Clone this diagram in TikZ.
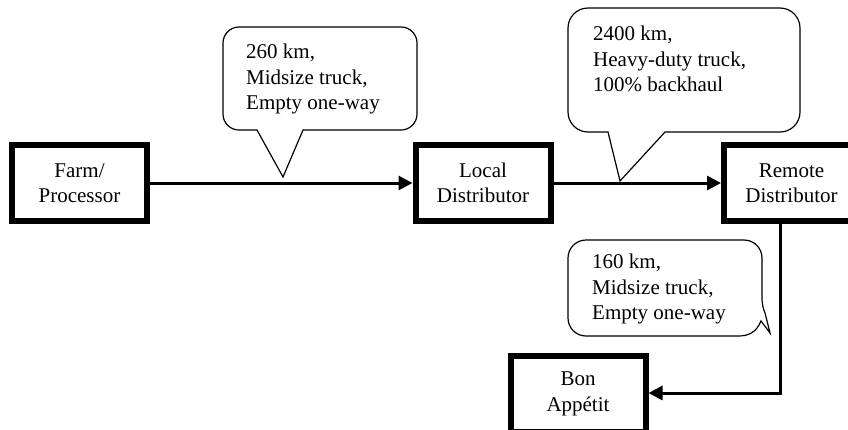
\documentclass[tikz,border=0pt]{standalone}
\usepackage{fontspec}
\setmainfont{Liberation Serif}
\usetikzlibrary{arrows.meta}
\begin{document}
\begin{tikzpicture}[x=1pt,y=1pt,
 stage/.style={draw,line width=6pt,minimum width=135pt,minimum height=76pt,align=center,inner sep=0pt,font=\fontsize{21}{25.5}\selectfont},
 flow/.style={line width=3pt,-{Triangle[length=14pt,width=14pt]}},
 callout/.style={draw,line width=1.2pt,fill=white},
 ctext/.style={anchor=west,align=left,inner sep=0pt,font=\fontsize{21}{25.5}\selectfont}]
\useasboundingbox (0,0) rectangle (848,-429);
\clip (0,0) rectangle (848,-429);
\node[stage] (farm) at (79.5,-183) {Farm/\\Processor};
\node[stage] (local) at (483,-183) {Local\\Distributor};
\node[stage] (remote) at (791.5,-183) {Remote\\Distributor};
\node[stage] (bon) at (578,-394) {Bon\\Appétit};
\coordinate (turn) at (780,-393);
\draw[flow] (farm) -- (local);
\draw[flow] (local) -- (remote);
\draw[flow] (remote.south -| turn) |- (bon.east |- turn);
% callout 1
\draw[callout] (239,-27) -- (401,-27) arc[start angle=90,end angle=0,radius=16pt]
  -- (417,-114) arc[start angle=0,end angle=-90,radius=16pt]
  -- (303,-130) -- (283,-177) -- (257,-130) -- (239,-130)
  arc[start angle=270,end angle=180,radius=16pt] -- (223,-43)
  arc[start angle=180,end angle=90,radius=16pt] -- cycle;
% callout 2
\draw[callout] (588,-8) -- (780,-8) arc[start angle=90,end angle=0,radius=20pt]
  -- (800,-112) arc[start angle=0,end angle=-90,radius=20pt]
  -- (665,-132) -- (620,-181) -- (608,-132) -- (588,-132)
  arc[start angle=270,end angle=180,radius=20pt] -- (568,-28)
  arc[start angle=180,end angle=90,radius=20pt] -- cycle;
% callout 3
\draw[callout] (586,-240) -- (744,-240) arc[start angle=90,end angle=0,radius=18pt]
  -- (762,-300) .. controls (763,-308) .. (765,-313) -- (770,-333) -- (761,-321)
  .. controls (756,-333) and (748,-336) .. (738,-336)
  -- (586,-336) arc[start angle=270,end angle=180,radius=18pt] -- (568,-258)
  arc[start angle=180,end angle=90,radius=18pt] -- cycle;
\node[ctext] (t1) at (246,-79) {260 km,\\Midsize truck,\\Empty one-way};
\node[ctext] (t2) at (593,-59) {2400 km,\\Heavy-duty truck,\\100\% backhaul};
\node[ctext] (t3) at (592,-289) {160 km,\\Midsize truck,\\Empty one-way};
\end{tikzpicture}
\end{document}
